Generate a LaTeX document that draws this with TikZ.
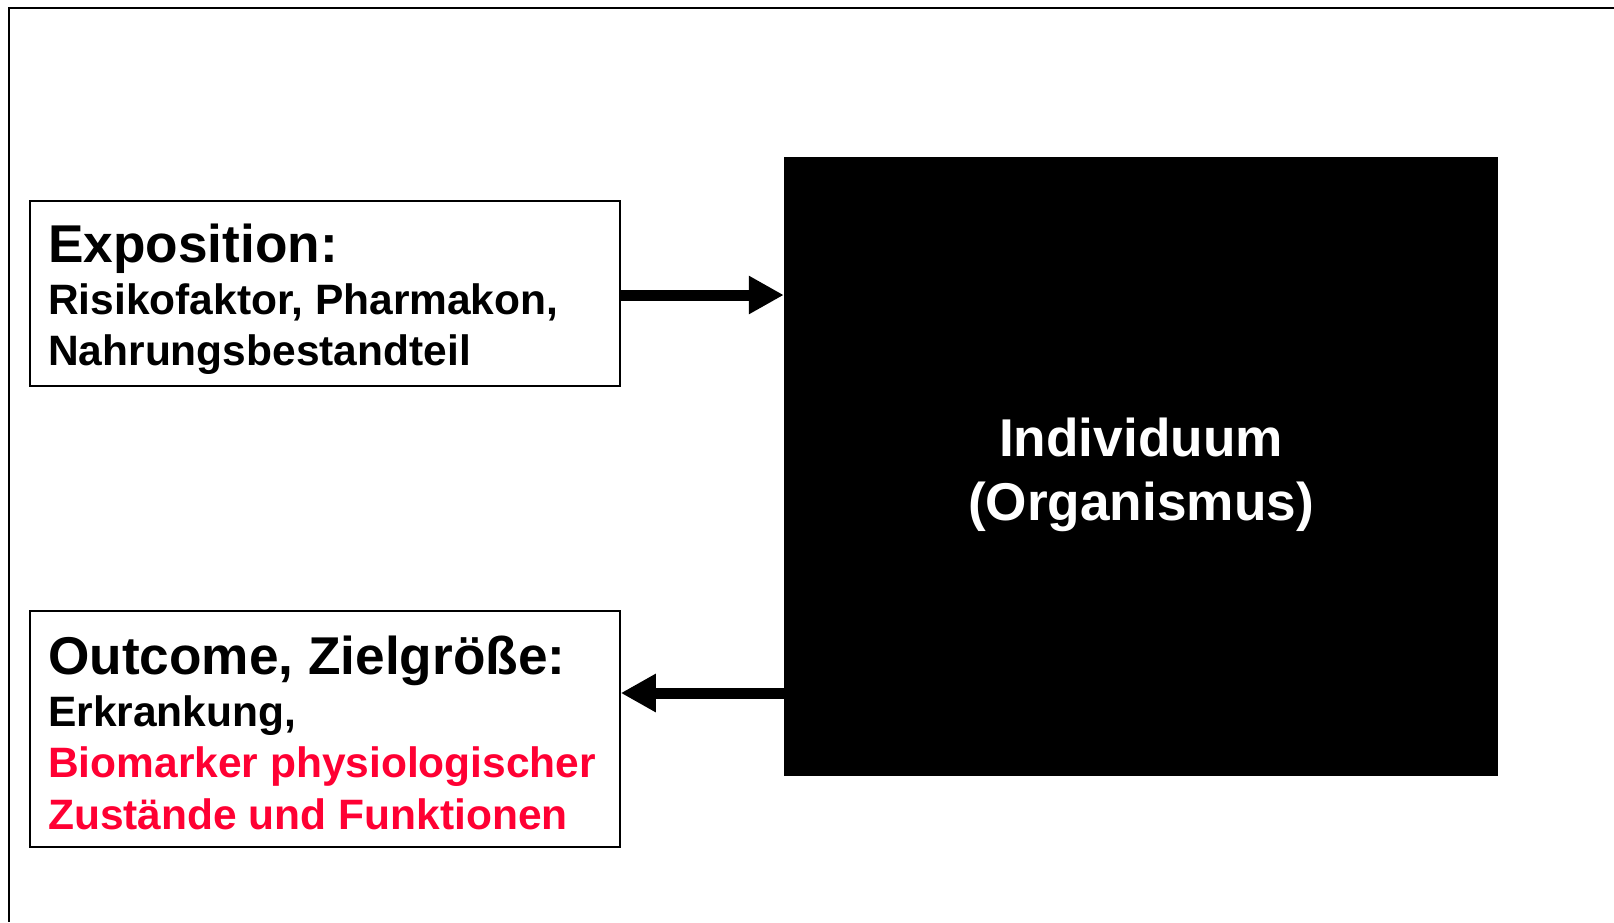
\documentclass[tikz,border=0pt]{standalone}
\usepackage{fontspec}
\setmainfont{Liberation Sans}
\usetikzlibrary{arrows.meta}
\definecolor{markred}{RGB}{255,0,51}
\begin{document}
\begin{tikzpicture}[x=1pt,y=-1pt,
  frameline/.style={draw=black,line width=2.2pt},
  textbox/.style={draw=black,line width=1.6pt,rectangle,inner sep=0pt},
  bigarrow/.style={line width=11pt,-{Triangle[length=35pt,width=36pt]}},
  head/.style={anchor=base west,inner sep=0pt,font=\fontsize{53.2}{60}\selectfont\bfseries},
  body/.style={anchor=base west,inner sep=0pt,font=\fontsize{42.5}{50}\selectfont\bfseries}]
\useasboundingbox (0,0) rectangle (1614,922);
\fill[white] (0,0) rectangle (1614,922);
% outer frame (open towards the right and bottom)
\draw[frameline] (1614,8) -- (9,8) -- (9,922);
% boxes
\node[textbox,minimum width=590pt,minimum height=185pt] (expo) at (325,293.5) {};
\node[textbox,minimum width=590pt,minimum height=236pt] (outc) at (325,729) {};
\node[fill=black,inner sep=0pt,minimum width=714pt,minimum height=619pt] (indiv) at (1141,466.5) {};
% texts of the exposure box
\node[head] (expoT) at (48,262) {Exposition:};
\node[body] (expoA) at (48,314) {Risikofaktor, Pharmakon,};
\node[body] (expoB) at (48,365) {Nahrungsbestandteil};
% texts of the outcome box
\node[head] (outcT) at (48,674) {Outcome, Zielgröße:};
\node[body] (outcA) at (48,726) {Erkrankung,};
\node[body,text=markred] (outcB) at (48,777) {Biomarker physiologischer};
\node[body,text=markred] (outcC) at (48,829) {Zustände und Funktionen};
% text of the individual box
\node[text=white,anchor=base,inner sep=0pt,font=\fontsize{53.2}{60}\selectfont\bfseries] (indA) at (1141,456) {Individuum};
\node[text=white,anchor=base,inner sep=0pt,font=\fontsize{53.2}{60}\selectfont\bfseries] (indB) at (1141,520) {(Organismus)};
% connectors
\coordinate (inY) at (0,295);
\coordinate (outY) at (0,693);
\draw[bigarrow] (expo.east |- inY) -- (indiv.west |- inY);
\draw[bigarrow] (indiv.west |- outY) -- (outc.east |- outY);
\end{tikzpicture}
\end{document}
